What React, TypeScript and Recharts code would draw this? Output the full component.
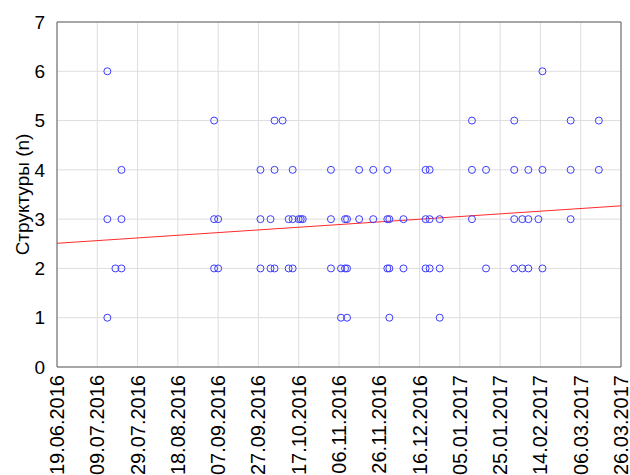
import { CartesianGrid, Scatter, ScatterChart, XAxis, YAxis } from "recharts"

// observation dates and the counts recorded on each of them
const sampleDates = [
  "14.07.2016", "18.07.2016", "21.07.2016", "05.09.2016", "07.09.2016",
  "28.09.2016", "03.10.2016", "05.10.2016", "09.10.2016", "12.10.2016",
  "14.10.2016", "17.10.2016", "18.10.2016", "19.10.2016", "02.11.2016",
  "07.11.2016", "09.11.2016", "10.11.2016", "16.11.2016", "23.11.2016",
  "30.11.2016", "01.12.2016", "08.12.2016", "19.12.2016", "21.12.2016",
  "26.12.2016", "11.01.2017", "18.01.2017", "01.02.2017", "05.02.2017",
  "08.02.2017", "13.02.2017", "15.02.2017", "01.03.2017", "15.03.2017",
]
const countsByDate = [
  [6, 3, 1], [2], [4, 3, 2], [5, 3, 2], [3, 2],
  [4, 3, 2], [3, 2], [5, 4, 2], [5], [3, 2],
  [4, 3, 2], [3], [3], [3], [4, 3, 2],
  [2, 1], [3, 2], [3, 2, 1], [4, 3], [4, 3],
  [4, 3, 2], [3, 2, 1], [3, 2], [4, 3, 2], [4, 3, 2],
  [3, 2, 1], [5, 4, 3], [4, 2], [5, 4, 3, 2], [3, 2],
  [4, 3, 2], [3], [6, 4, 2], [5, 4, 3], [5, 4],
]

// fitted trend line, read at both ends of the axis
const fitDates = ["19.06.2016", "26.03.2017"]
const fitValues = [2.51, 3.27]

const xTickLabels = [
  "19.06.2016", "09.07.2016", "29.07.2016", "18.08.2016", "07.09.2016",
  "27.09.2016", "17.10.2016", "06.11.2016", "26.11.2016", "16.12.2016",
  "05.01.2017", "25.01.2017", "14.02.2017", "06.03.2017", "26.03.2017",
]
const yTicks = [0, 1, 2, 3, 4, 5, 6, 7]

const FONT = "Liberation Sans, Arial, sans-serif"
const FRAME = "#5e5e5e"

const toDay = (s: string) => {
  const [d, m, y] = s.split(".").map(Number)
  return Math.round((Date.UTC(y, m - 1, d) - Date.UTC(2016, 5, 19)) / 86400000)
}

const xTicks = xTickLabels.map(toDay)
const xMax = xTicks[xTicks.length - 1]
const minorX = Array.from({ length: xMax / 4 + 1 }, (_, i) => i * 4)
const minorY = Array.from({ length: 29 }, (_, i) => i * 0.25)

const points = sampleDates.flatMap((d, i) =>
  countsByDate[i].map((n) => ({ day: toDay(d), n }))
)
const fit = fitDates.map((d, i) => ({ day: toDay(d), n: fitValues[i] }))

const DateTick = ({ x, y, payload }: any) => {
  const idx = xTicks.indexOf(payload.value)
  return (
    <text
      x={x}
      y={y}
      transform={`rotate(-90, ${x}, ${y})`}
      textAnchor="end"
      dominantBaseline="central"
      fontSize={20}
      fontFamily={FONT}
      fill="#000"
    >
      {xTickLabels[idx]}
    </text>
  )
}

const YTitle = ({ viewBox }: any) => {
  const cx = 22
  const cy = viewBox.y + viewBox.height / 2
  return (
    <text
      x={cx}
      y={cy}
      transform={`rotate(-90, ${cx}, ${cy})`}
      textAnchor="middle"
      dominantBaseline="central"
      fontSize={19}
      fontFamily={FONT}
      fill="#000"
    >
      Структуры (n)
    </text>
  )
}

const Ring = (p: any) => (
  <circle cx={p.cx} cy={p.cy} r={3.5} fill="none" stroke="#3b3bff" strokeWidth={1} />
)

const blank = () => ""

export default function App() {
  return (
    <div style={{ position: "absolute", left: 0, top: 0, width: 630, height: 475, background: "#fff" }}>
      <ScatterChart width={630} height={475} margin={{ top: 22, right: 9, bottom: 0, left: 0 }}>
        <CartesianGrid xAxisId="x" yAxisId="y" stroke="#dedede" strokeWidth={1} />
        <XAxis
          xAxisId="x"
          type="number"
          dataKey="day"
          domain={[0, xMax]}
          ticks={xTicks}
          interval={0}
          height={108}
          tickLine={false}
          tickSize={4}
          tickMargin={4}
          axisLine={{ stroke: FRAME }}
          tick={<DateTick />}
        />
        <XAxis
          xAxisId="xb"
          type="number"
          orientation="bottom"
          mirror
          domain={[0, xMax]}
          ticks={minorX}
          interval={0}
          height={1}
          tickSize={2}
          tickFormatter={blank}
          axisLine={false}
          tickLine={{ stroke: FRAME }}
        />
        <XAxis
          xAxisId="xt"
          type="number"
          orientation="top"
          mirror
          domain={[0, xMax]}
          ticks={minorX}
          interval={0}
          height={1}
          tickSize={3}
          tickFormatter={blank}
          axisLine={{ stroke: FRAME }}
          tickLine={{ stroke: FRAME }}
        />
        <YAxis
          yAxisId="y"
          type="number"
          dataKey="n"
          domain={[0, 7]}
          ticks={yTicks}
          interval={0}
          width={57}
          tickLine={false}
          tickSize={4}
          tickMargin={8}
          axisLine={{ stroke: FRAME }}
          tick={{ fontSize: 19, fontFamily: FONT, fill: "#000" }}
          label={{ content: <YTitle /> }}
        />
        <YAxis
          yAxisId="yl"
          type="number"
          orientation="left"
          mirror
          domain={[0, 7]}
          ticks={minorY}
          interval={0}
          width={1}
          tickSize={3}
          tickFormatter={blank}
          axisLine={false}
          tickLine={{ stroke: FRAME }}
        />
        <YAxis
          yAxisId="yr"
          type="number"
          orientation="right"
          mirror
          domain={[0, 7]}
          ticks={minorY}
          interval={0}
          width={1}
          tickSize={3}
          tickFormatter={blank}
          axisLine={{ stroke: FRAME }}
          tickLine={{ stroke: FRAME }}
        />
        <Scatter
          xAxisId="x"
          yAxisId="y"
          data={fit}
          line={{ stroke: "#ff2a2a", strokeWidth: 1 }}
          shape={() => <g />}
          isAnimationActive={false}
        />
        <Scatter
          xAxisId="x"
          yAxisId="y"
          data={points}
          shape={<Ring />}
          isAnimationActive={false}
        />
      </ScatterChart>
    </div>
  )
}
